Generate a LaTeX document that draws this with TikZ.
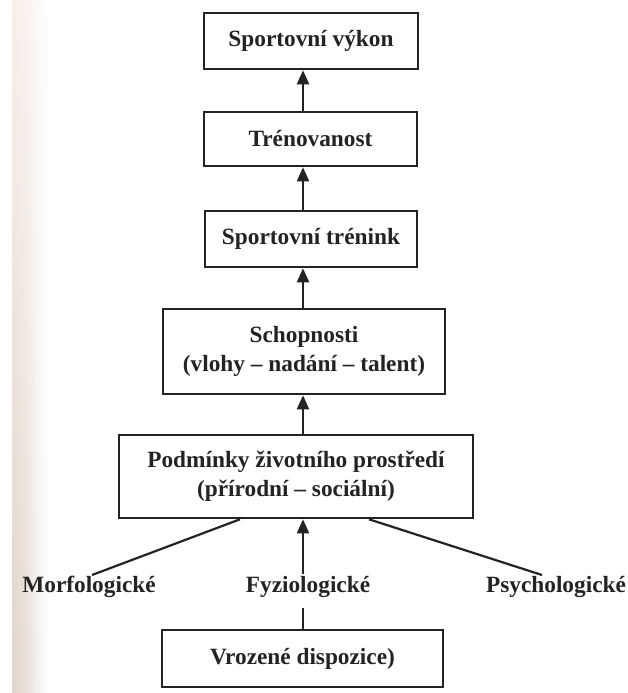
\documentclass[tikz,border=0pt]{standalone}
\usepackage{fontspec}
\setmainfont{Liberation Serif}
\usetikzlibrary{arrows.meta}
\definecolor{ink}{HTML}{232323}
\definecolor{stripA}{RGB}{247,238,232}
\definecolor{stripB}{RGB}{222,210,198}
\begin{document}
\begin{tikzpicture}[x=1pt,y=-1pt,
  box/.style={draw=ink, line width=2.6pt, fill=white, text=ink, align=center,
    inner sep=0pt, font=\fontsize{23.3}{29}\selectfont\bfseries},
  lab/.style={text=ink, anchor=base, inner sep=0pt,
    font=\fontsize{23.3}{29}\selectfont\bfseries},
  arr/.style={draw=ink, line width=2.2pt, -{Triangle[length=14pt,width=12pt]}},
  ln/.style={draw=ink, line width=2.2pt}]
\useasboundingbox (0,0) rectangle (627,693);
\fill[white] (0,0) rectangle (627,693);
% faint tinted strip at the left edge of the scan
\foreach \i/\o in {0/0.9,1/0.85,2/0.8,3/0.75,4/0.7,5/0.6,6/0.5,7/0.4,8/0.3,9/0.2,10/0.12,11/0.06}
  \shade[top color=stripA, bottom color=stripB, opacity=\o] ({12+3*\i},0) rectangle ({15+3*\i},693);

% boxes
\node[box, minimum width=214pt, minimum height=56pt] (b1) at (311,41) {Sportovní výkon};
\node[box, minimum width=213pt, minimum height=54pt] (b2) at (310.5,139) {Trénovanost};
\node[box, minimum width=212pt, minimum height=56pt] (b3) at (311,239) {Sportovní trénink};
\node[box, minimum width=282pt, minimum height=85pt] (b4) at (304,351.5) {Schopnosti\\(vlohy – nadání – talent)};
\node[box, minimum width=354pt, minimum height=83pt] (b5) at (296,476.5) {Podmínky životního prostředí\\(přírodní – sociální)};
\node[box, minimum width=281pt, minimum height=57pt] (b6) at (302.5,658.5) {Vrozené dispozice)};

% labels
\node[lab] (mo) at (89,592) {Morfologické};
\node[lab] (fy) at (308,592) {Fyziologické};
\node[lab] (ps) at (556,592) {Psychologické};

% helper coordinates
\coordinate (ax) at (303,0);
\coordinate (ls) at (240,0);
\coordinate (rs) at (369,0);
\coordinate (ml) at (92,575);
\coordinate (pr) at (542,575);
\coordinate (fa) at (303,574);
\coordinate (fb) at (303,608);

% arrows
\draw[arr] (b2.north -| ax) -- (b1.south -| ax);
\draw[arr] (b3.north -| ax) -- (b2.south -| ax);
\draw[arr] (b4.north -| ax) -- (b3.south -| ax);
\draw[arr] (b5.north -| ax) -- (b4.south -| ax);
\draw[arr] (fa) -- (b5.south -| ax);
\draw[ln] (b6.north -| ax) -- (fb);
\draw[ln] (b5.south -| ls) -- (ml);
\draw[ln] (b5.south -| rs) -- (pr);
\end{tikzpicture}
\end{document}
